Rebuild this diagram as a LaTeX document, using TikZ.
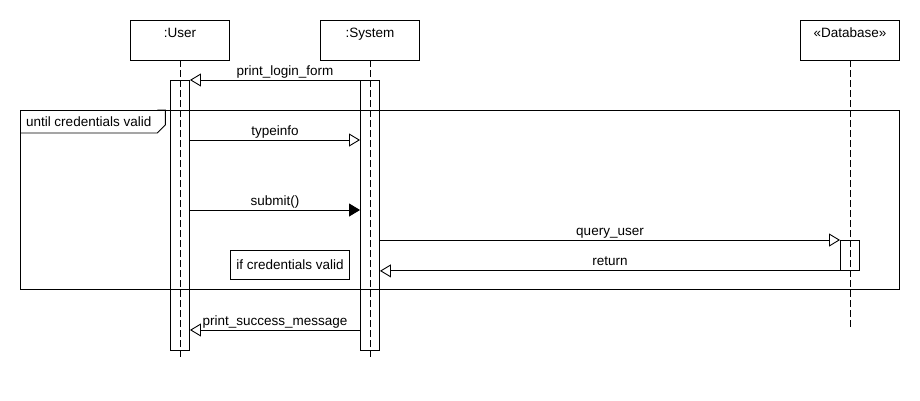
\documentclass[tikz,border=0pt]{standalone}
\usepackage{fontspec}
\setmainfont{Liberation Sans}
\usetikzlibrary{arrows.meta,positioning}
\tikzset{>=Stealth,
	participant/.style={% head of a lifeline
		draw, rectangle,
		minimum width=99pt,
		minimum height=40pt,
		inner ysep=0pt,
		text height=17pt,
		text depth=23pt,
		align=center
	},
	activation/.style={
		draw, rectangle,
		minimum width=19pt,
		inner sep=0pt,
		anchor=north
	},
	lifeline/.style={dash pattern=on 7pt off 3pt},
	msg/.style={-{Triangle[open,length=11pt,width=13pt]}},
	call/.style={-{Triangle[length=11pt,width=13pt]}},
	lbl/.style={above=1.5pt, inner sep=0pt, text depth=3pt}
}
\begin{document}
\begin{tikzpicture}[x=1pt,y=-1pt,line width=0.9pt,font=\fontsize{13.5}{15}\selectfont]
                        \useasboundingbox (0,0) rectangle (920,400);
                        \node [participant] (user) at (180,40) {:User};
                        \node [participant] (sys) at (370,40) {:System};
                        \node [participant] (db) at (850,40) {«Database»};
                        \coordinate (uend) at (180,360);
                        \coordinate (send) at (370,360);
                        \coordinate (dend) at (850,330);
                        \draw [lifeline] (user) -- (uend);
                        \draw [lifeline] (sys) -- (send);
                        \draw [lifeline] (db) -- (dend);
                        \node [activation, minimum height=270pt] (uact) at (180,80) {};
                        \node [activation, minimum height=270pt] (sact) at (370,80) {};
                        \node [activation, minimum height=30pt] (dact) at (850,240) {};
                        % loop frame
                        \node [draw, outer sep=0pt, anchor=north west, minimum width=879pt, minimum height=179pt] (loop) at (20,110) {};
                        \node [outer sep=0pt, anchor=north west, inner xsep=6pt, inner ysep=4pt, text height=12pt, text depth=3pt] (cond) at (loop.north west) {until credentials valid};
                        \draw (cond.south west) -- (cond.south east) -- ++(8,-8) |- (cond.north east);
                        \node [draw, minimum width=119pt, minimum height=29pt, inner sep=0pt] (guard) at (290,265) {if credentials valid};
                        % message rows
                        \coordinate (m2) at (0,140);
                        \coordinate (m3) at (0,210);
                        \coordinate (m4) at (0,240);
                        \coordinate (m6) at (0,330);
                        \draw [msg] (sact.north east) -- node[lbl] {print\_login\_form} (uact.north east);
                        \draw [msg] (uact.east |- m2) -- node[lbl] {typeinfo} (sact.west |- m2);
                        \draw [call] (uact.east |- m3) -- node[lbl] {submit()} (sact.west |- m3);
                        \draw [msg] (sact.east |- m4) -- node[lbl] {query\_user} (dact.north west);
                        \draw [msg] (dact.south west) -- node[lbl] {return} (sact.east |- dact.south);
                        \draw [msg] (sact.west |- m6) -- node[lbl] {print\_success\_message} (uact.east |- m6);
                \end{tikzpicture}
\end{document}
